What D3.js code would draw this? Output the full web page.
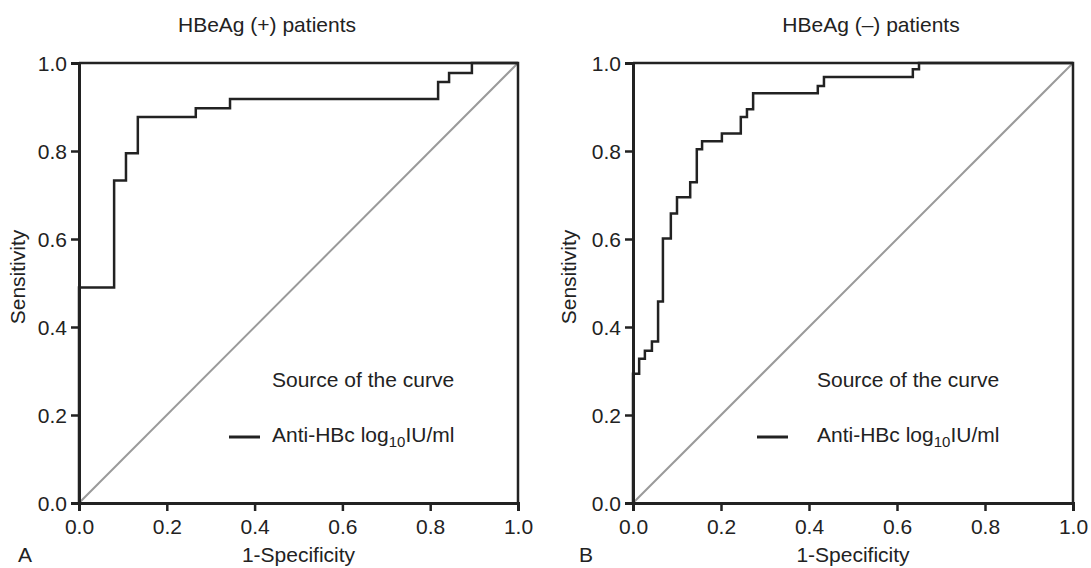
<!DOCTYPE html>
<html>
<head>
<meta charset="utf-8">
<script src="https://cdn.jsdelivr.net/npm/d3@7"></script>
<style>
  body { margin: 0; background: #fff; }
  text { font-family: "Liberation Sans", Arial, Helvetica, sans-serif; fill: #222; }
</style>
</head>
<body>
<div id="chart"></div>
<script>
// tick values shared by both panels
const tickValues = [0, 0.2, 0.4, 0.6, 0.8, 1.0];

// HBeAg (+) ROC corner points (1-specificity, sensitivity)
const fprPos = [0, 0, 0.08, 0.107, 0.134, 0.266, 0.344, 0.818, 0.843, 0.895, 1.0];
const tprPos = [0, 0.49, 0.733, 0.795, 0.877, 0.897, 0.918, 0.957, 0.977, 1.0, 1.0];

// HBeAg (-) ROC corner points
const fprNeg = [0, 0, 0.014, 0.027, 0.043, 0.057, 0.068, 0.086, 0.1, 0.13, 0.145, 0.157, 0.202, 0.245, 0.259, 0.273, 0.42, 0.434, 0.636, 0.65, 1.0];
const tprNeg = [0, 0.294, 0.328, 0.346, 0.367, 0.458, 0.601, 0.658, 0.695, 0.729, 0.804, 0.822, 0.84, 0.877, 0.895, 0.931, 0.948, 0.968, 0.986, 1.0, 1.0];

const titles = ["HBeAg (+) patients", "HBeAg (\u2013) patients"];
const panelLetters = ["A", "B"];

var svg = d3.select("#chart")
    .append("svg")
    .attr("width", 1091)
    .attr("height", 568);

function drawPanel(p) {
    var x = d3.scaleLinear().domain([0, 1]).range([p.left, p.right]);
    var y = d3.scaleLinear().domain([0, 1]).range([p.bottom, p.top]);
    var g = svg.append("g");

    // reference diagonal
    g.append("line")
        .attr("x1", x(0)).attr("y1", y(0))
        .attr("x2", x(1)).attr("y2", y(1))
        .attr("stroke", "#9a9a9a")
        .attr("stroke-width", 2);

    // top and right border
    g.append("path")
        .attr("d", "M" + x(0) + "," + y(1) + "H" + x(1) + "V" + y(0))
        .attr("fill", "none")
        .attr("stroke", "#222")
        .attr("stroke-width", 2.5);

    // ROC curve
    var pts = p.fpr.map(function (d, i) { return [d, p.tpr[i]]; });
    var line = d3.line()
        .x(function (d) { return x(d[0]); })
        .y(function (d) { return y(d[1]); })
        .curve(d3.curveStepAfter);
    g.append("path")
        .datum(pts)
        .attr("d", line)
        .attr("fill", "none")
        .attr("stroke", "#222")
        .attr("stroke-width", 2.5);

    // axes
    var fmt = d3.format(".1f");
    var xAxis = g.append("g")
        .attr("transform", "translate(0," + y(0) + ")")
        .call(d3.axisBottom(x).tickValues(tickValues).tickFormat(fmt).tickSize(8).tickPadding(8));
    var yAxis = g.append("g")
        .attr("transform", "translate(" + x(0) + ",0)")
        .call(d3.axisLeft(y).tickValues(tickValues).tickFormat(fmt).tickSize(8).tickPadding(4));
    [xAxis, yAxis].forEach(function (a) {
        a.select(".domain").attr("stroke", "#222").attr("stroke-width", 3);
        a.selectAll(".tick line").attr("stroke", "#222").attr("stroke-width", 2.5);
        a.selectAll(".tick text")
            .attr("fill", "#222")
            .style("font-size", "21px")
            .style("font-family", "'Liberation Sans', Arial, sans-serif");
    });
    yAxis.selectAll(".tick text").attr("dy", "0.36em");

    // title
    g.append("text")
        .attr("x", p.titleX)
        .attr("y", 32)
        .attr("text-anchor", "middle")
        .style("font-size", "21px")
        .text(p.title);

    // axis labels
    g.append("text")
        .attr("transform", "translate(" + p.yLabelX + "," + ((p.top + p.bottom) / 2 - 6) + ") rotate(-90)")
        .attr("text-anchor", "middle")
        .style("font-size", "21px")
        .text("Sensitivity");
    g.append("text")
        .attr("x", (p.left + p.right) / 2)
        .attr("y", 562)
        .attr("text-anchor", "middle")
        .style("font-size", "21px")
        .text("1-Specificity");
    g.append("text")
        .attr("x", p.letterX)
        .attr("y", 562)
        .style("font-size", "21px")
        .text(p.letter);

    // legend
    g.append("text")
        .attr("x", p.legendTextX)
        .attr("y", 387)
        .style("font-size", "21px")
        .text("Source of the curve");
    g.append("line")
        .attr("x1", p.legendLineX).attr("x2", p.legendLineX + 31)
        .attr("y1", 437).attr("y2", 437)
        .attr("stroke", "#222")
        .attr("stroke-width", 3);
    var lt = g.append("text")
        .attr("x", p.legendTextX)
        .attr("y", 442)
        .style("font-size", "21px");
    lt.append("tspan").text("Anti-HBc log");
    lt.append("tspan").attr("dy", 5).style("font-size", "15px").text("10");
    lt.append("tspan").attr("dy", -5).text("IU/ml");
}

drawPanel({
    left: 79, right: 518, top: 63, bottom: 503,
    fpr: fprPos, tpr: tprPos,
    title: titles[0], titleX: 267,
    yLabelX: 25, letter: panelLetters[0], letterX: 18,
    legendTextX: 272, legendLineX: 229
});
drawPanel({
    left: 633, right: 1073, top: 63, bottom: 503,
    fpr: fprNeg, tpr: tprNeg,
    title: titles[1], titleX: 871,
    yLabelX: 576, letter: panelLetters[1], letterX: 579,
    legendTextX: 817, legendLineX: 757
});
</script>
</body>
</html>
